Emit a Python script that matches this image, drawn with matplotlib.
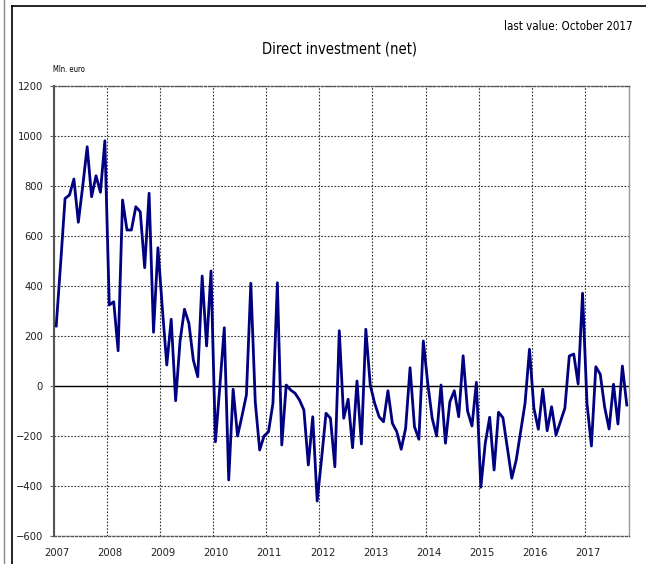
import matplotlib.pyplot as plt
from matplotlib.lines import Line2D

YEARS = ["2007", "2008", "2009", "2010", "2011", "2012", "2013", "2014", "2015", "2016", "2017"]

# monthly values, Jan 2007 - Oct 2017 (Mln. euro)
V2007 = [240, 490, 750, 764, 828, 655, 800, 957, 757, 841, 775, 981]
V2008 = [324, 337, 141, 744, 624, 624, 717, 697, 473, 771, 215, 553]
V2009 = [310, 84, 267, -59, 180, 307, 251, 104, 37, 440, 160, 460]
V2010 = [-223, 0, 233, -376, -13, -200, -120, -36, 411, -63, -256, -200]
V2011 = [-183, -69, 413, -236, 4, -16, -29, -56, -96, -316, -123, -460]
V2012 = [-290, -109, -129, -323, 221, -129, -53, -247, 20, -232, 227, 4]
V2013 = [-69, -123, -143, -19, -149, -183, -253, -169, 73, -163, -213, 180]
V2014 = [11, -129, -200, 4, -229, -63, -19, -123, 121, -100, -160, 15]
V2015 = [-405, -229, -125, -336, -105, -127, -249, -369, -296, -183, -69, 147]
V2016 = [-89, -173, -13, -179, -83, -196, -143, -89, 120, 128, 8, 371]
V2017 = [-69, -240, 77, 47, -85, -172, 7, -152, 80, -76]

values = V2007 + V2008 + V2009 + V2010 + V2011 + V2012 + V2013 + V2014 + V2015 + V2016 + V2017
months = [i + 0.5 for i in range(len(values))]

plt.rcParams["font.family"] = ["DejaVu Sans"]
plt.rcParams["font.stretch"] = "condensed"

fig = plt.figure(figsize=(6.46, 5.64), dpi=100)
ax = fig.add_axes([54 / 646, 28 / 564, 575 / 646, 450 / 564])

ax.plot(months, values, color="#000080", linewidth=2.0, zorder=3)
ax.axhline(0, color="black", linewidth=1.0, zorder=2)

ax.set_xlim(0, 130)
ax.set_ylim(-600, 1200)
ax.set_yticks(range(-600, 1201, 200))
ax.set_xticks([12 * k for k in range(11)])
ax.set_xticks([12 * k + 0.7 for k in range(11)], minor=True)
ax.set_xticklabels([])
ax.set_xticklabels(YEARS, minor=True)
ax.tick_params(axis="x", which="both", length=0, pad=9, labelsize=8, colors="#222222")
ax.tick_params(axis="y", length=3, width=0.8, color="#666666", pad=5, labelsize=8, labelcolor="#222222")

ax.grid(True, which="major", linestyle=(0, (1.5, 1.5)), color="#333333", linewidth=0.8)

ax.spines["left"].set_color("#555555")
ax.spines["left"].set_linewidth(1.5)
ax.spines["right"].set_color("#999999")
ax.spines["right"].set_linewidth(1.0)
for s in ["top", "bottom"]:
  ax.spines[s].set_linestyle((0, (1.5, 1.5)))
  ax.spines[s].set_color("#555555")
  ax.spines[s].set_linewidth(1.0)

fig.text(340 / 646, 1 - 49 / 564, "Direct investment (net)", ha="center", va="center", fontsize=10.5)
fig.text(633 / 646, 1 - 26 / 564, "last value: October 2017", ha="right", va="center", fontsize=8.3)
fig.text(53 / 646, 1 - 70 / 564, "Mln. euro", ha="left", va="center", fontsize=5.5)

# outer frame lines
fig.add_artist(Line2D([3.5 / 646, 3.5 / 646], [0, 1], color="#888888", linewidth=1.0))
fig.add_artist(Line2D([11.5 / 646, 11.5 / 646], [0, 1 - 6 / 564], color="black", linewidth=1.2))
fig.add_artist(Line2D([11.5 / 646, 1], [1 - 6 / 564, 1 - 6 / 564], color="black", linewidth=1.2))

fig.savefig("out.png", dpi=100)
